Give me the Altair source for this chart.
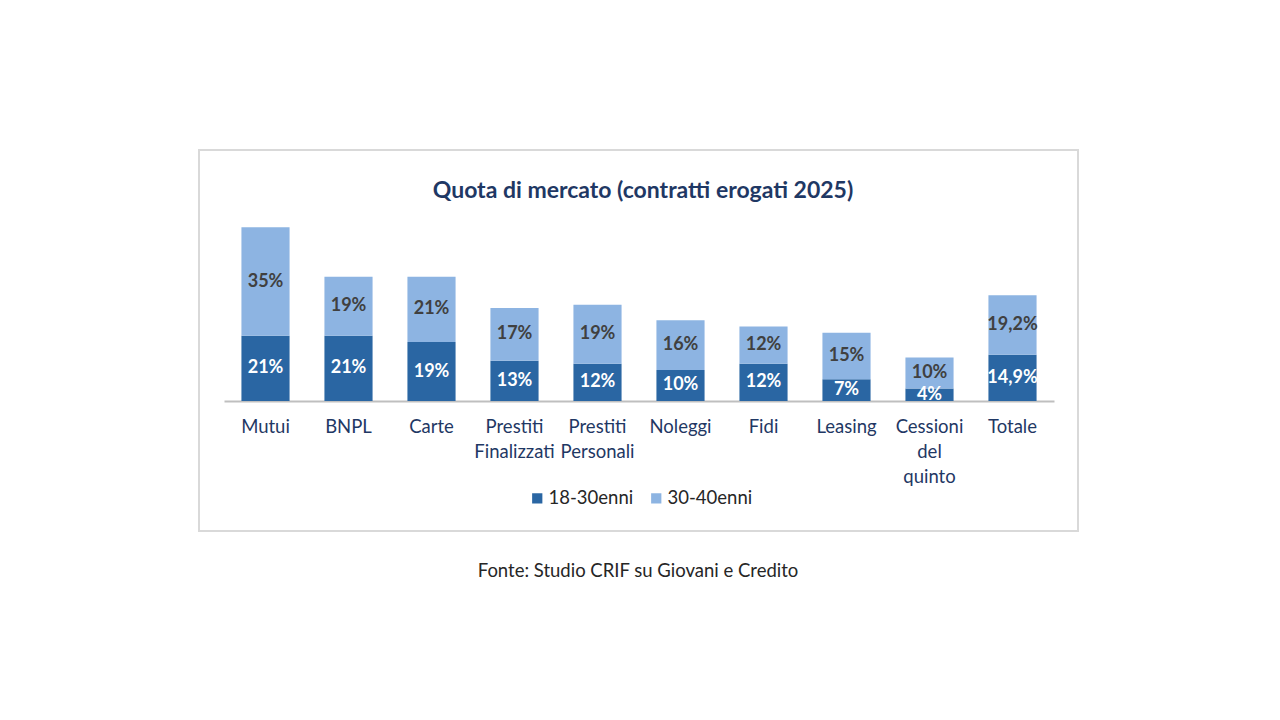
import altair as alt
import pandas as pd

categories = ["Mutui", "BNPL", "Carte", "Prestiti\nFinalizzati", "Prestiti\nPersonali",
              "Noleggi", "Fidi", "Leasing", "Cessioni\ndel\nquinto", "Totale"]
young = [21, 21, 19, 13, 12, 10, 12, 7, 4, 14.9]
adult = [35, 19, 21, 17, 19, 16, 12, 15, 10, 19.2]
series = ["18-30enni", "30-40enni"]
colors = ["#2A66A3", "#8DB4E2"]
title_text = "Quota di mercato (contratti erogati 2025)"
source_text = "Fonte: Studio CRIF su Giovani e Credito"

FONT = "Lato"


def fmt(v):
    return f"{v:g}%".replace(".", ",")


rows = []
for c, a, b in zip(categories, young, adult):
    rows.append(dict(cat=c, group=series[0], start=0, end=a, mid=a / 2, label=fmt(a)))
    rows.append(dict(cat=c, group=series[1], start=a, end=a + b, mid=a + b / 2, label=fmt(b)))
df = pd.DataFrame(rows)

xenc = alt.X("cat:N", sort=categories, title=None,
             scale=alt.Scale(paddingInner=0.42, paddingOuter=0.21),
             axis=alt.Axis(labelExpr="split(datum.label, '\\n')", labelAngle=0,
                           ticks=False, domainColor="#BFBFBF", domainWidth=2,
                           labelFont=FONT, labelFontSize=18.5, labelColor="#1F3864",
                           labelPadding=16, labelLineHeight=25, labelBaseline="top"))
yscale = alt.Scale(domain=[0, 58])

base = alt.Chart(df)

bars = base.mark_bar().encode(
    x=xenc,
    y=alt.Y("start:Q", scale=yscale, axis=None),
    y2="end:Q",
    color=alt.Color("group:N", scale=alt.Scale(domain=series, range=colors),
                    legend=alt.Legend(orient="none", legendX=304, legendY=268,
                                      direction="horizontal", title=None,
                                      symbolType="square", symbolSize=105,
                                      symbolStrokeWidth=0,
                                      labelFont=FONT, labelFontSize=18.5,
                                      labelColor="#262626", columnPadding=13,
                                      labelOffset=2, padding=0)),
)

lab_dark = base.transform_filter(alt.datum.group == series[0]).mark_text(
    font=FONT, fontSize=18, fontWeight="bold", color="white"
).encode(x=alt.X("cat:N", sort=categories), y=alt.Y("mid:Q", scale=yscale), text="label:N")

lab_light = base.transform_filter(alt.datum.group == series[1]).mark_text(
    font=FONT, fontSize=18, fontWeight="bold", color="#404040"
).encode(x=alt.X("cat:N", sort=categories), y=alt.Y("mid:Q", scale=yscale), text="label:N")

frame = alt.Chart(pd.DataFrame({"k": [0]})).mark_rect(
    fillOpacity=0, stroke="#D9D9D9", strokeWidth=2
).encode(x=alt.value(-25), x2=alt.value(854), y=alt.value(-71), y2=alt.value(310))

title = alt.Chart(pd.DataFrame({"t": [title_text]})).mark_text(
    font=FONT, fontSize=23, fontWeight="bold", color="#1F3864"
).encode(text="t:N", x=alt.value(419), y=alt.value(-30))

source = alt.Chart(pd.DataFrame({"t": [source_text]})).mark_text(
    font=FONT, fontSize=18.5, color="#262626"
).encode(text="t:N", x=alt.value(414), y=alt.value(350))

chart = alt.layer(frame, bars, lab_dark, lab_light, title, source).properties(
    width=830, height=180,
    padding={"left": 190, "top": 141, "right": 5, "bottom": 5},
).configure_view(stroke=None).configure_axis(grid=False)

chart.save("out.html", embed_options={"renderer": "svg", "actions": False})
